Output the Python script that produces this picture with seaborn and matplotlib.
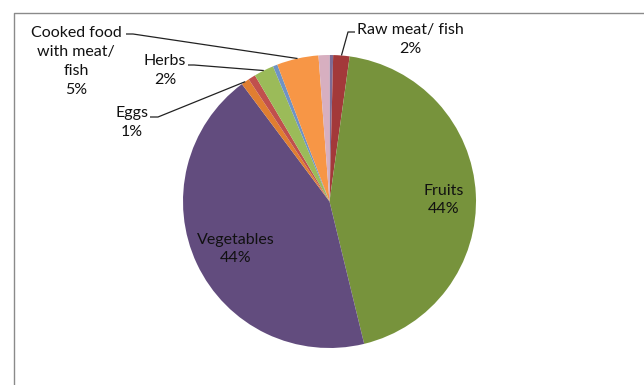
import numpy as np
import matplotlib
matplotlib.use("Agg")
import matplotlib.pyplot as plt
import seaborn as sns

# ---- data (clockwise from 12 o'clock) ----
categories = ["Other A", "Raw meat/ fish", "Fruits", "Vegetables", "Eggs",
              "Other B", "Herbs", "Other C", "Cooked food with meat/ fish", "Other D"]
values = [0.4, 1.8, 44.0, 43.6, 0.9, 0.8, 2.2, 0.5, 4.6, 1.2]
label_text = {
    "Raw meat/ fish": "Raw meat/ fish",
    "Fruits": "Fruits",
    "Vegetables": "Vegetables",
    "Eggs": "Eggs",
    "Herbs": "Herbs",
    "Cooked food with meat/ fish": "Cooked food\nwith meat/\nfish",
}
slice_colors = ["#7E6B95", "#A3393A", "#77933C", "#624C7E", "#E07E31",
                "#C0504D", "#9BBB59", "#6F93C4", "#F79646", "#D7AFC0"]

sns.set_theme(style="white")
plt.rcParams["font.family"] = ["Lato", "DejaVu Sans"]

W, H = 644, 385
fig = plt.figure(figsize=(W / 100, H / 100), dpi=100)
ax = fig.add_axes([0, 0, 1, 1])

cx, cy, R = 329.5, H - 201.5, 146.5
palette = sns.color_palette(slice_colors)
wedges, _ = ax.pie(values, colors=palette, startangle=90, counterclock=False,
                   center=(cx, cy), radius=R,
                   wedgeprops=dict(linewidth=0.3, edgecolor="none", antialiased=True))
ax.set_xlim(0, W)
ax.set_ylim(0, H)
ax.set_aspect("auto")
ax.axis("off")

def edge_point(i, rfrac=1.0):
    w = wedges[i]
    mid = np.deg2rad((w.theta1 + w.theta2) / 2)
    return cx + R * rfrac * np.cos(mid), cy + R * rfrac * np.sin(mid)

def pct(i):
    return f"{round(values[i] / sum(values) * 100):.0f}%"

fs = 11.5
txt_kw = dict(fontsize=fs, color="#111111", ha="center", va="center", linespacing=1.45)

# inside labels
i = categories.index("Fruits")
ax.text(444, H - 200, f"{label_text['Fruits']}\n{pct(i)}", **txt_kw)
i = categories.index("Vegetables")
ax.text(236, H - 249, f"{label_text['Vegetables']}\n{pct(i)}", **txt_kw)

# outside labels with leader lines
lc = dict(color="#222222", lw=0.9, solid_capstyle="butt")

# Cooked food
i = categories.index("Cooked food with meat/ fish")
ax.text(76, H - 61.5, f"{label_text[categories[i]]}\n{pct(i)}", **txt_kw)
ex, ey = edge_point(i)
ax.plot([126, 133, ex], [H - 34, H - 34, ey], **lc)

# Herbs
i = categories.index("Herbs")
ax.text(165, H - 70.5, f"{label_text['Herbs']}\n{pct(i)}", **txt_kw)
ex, ey = edge_point(i)
ax.plot([188, 194, ex], [H - 65, H - 65, ey], **lc)

# Eggs
i = categories.index("Eggs")
ax.text(132, H - 122.5, f"{label_text['Eggs']}\n{pct(i)}", **txt_kw)
ex, ey = edge_point(i)
ax.plot([150, 158, ex], [H - 117, H - 117, ey], **lc)

# Raw meat
i = categories.index("Raw meat/ fish")
ax.text(410, H - 39.5, f"{label_text['Raw meat/ fish']}\n{pct(i)}", **txt_kw)
ex, ey = edge_point(i)
ax.plot([355, 348, ex], [H - 32, H - 32, ey], **lc)

# chart frame (cut off at right and bottom)
ax.plot([14, 14, W], [0, H - 12.5, H - 12.5], color="#8a8a8a", lw=1.0)

fig.savefig("out.png", dpi=100)
